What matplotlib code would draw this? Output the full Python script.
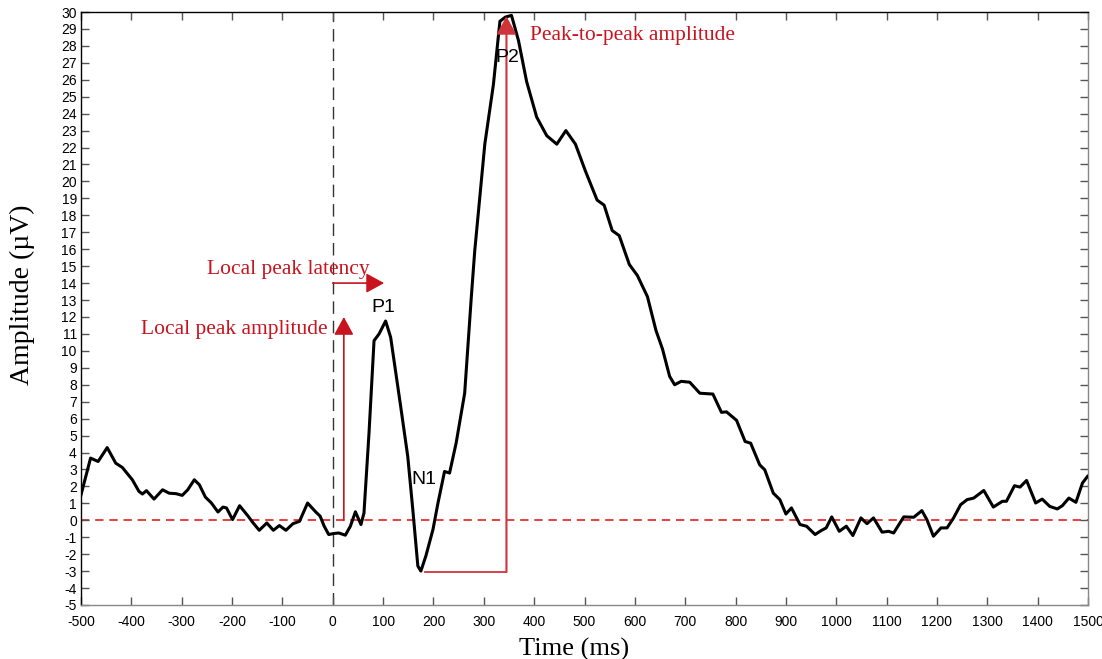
import matplotlib
matplotlib.use("Agg")
import matplotlib.pyplot as plt

# ---- data ----
time_ms = [-500, -481, -466, -448, -431, -418, -398, -385, -378, -370, -355, -338, -325, -311, -299,
           -288, -275, -265, -253, -241, -228, -218, -211, -199, -185, -168, -158, -146, -131, -118,
           -106, -93, -79, -66, -50, -35, -25, -17, -8, 2, 12, 25, 35, 45, 56, 62, 72, 82, 92, 105,
           115, 135, 149, 159, 169, 175, 185, 199, 209, 222, 232, 245, 262, 275, 282, 302, 319, 332,
           343, 355, 369, 385, 405, 425, 445, 463, 482, 502, 525, 539, 555, 569, 589, 605, 625, 642,
           655, 669, 679, 692, 709, 729, 755, 772, 782, 802, 819, 830, 848, 858, 875, 888, 900, 911,
           928, 941, 958, 971, 980, 991, 1006, 1020, 1033, 1049, 1061, 1074, 1091, 1104, 1114, 1134,
           1154, 1170, 1180, 1193, 1208, 1220, 1233, 1247, 1260, 1273, 1293, 1312, 1330, 1338, 1354,
           1365, 1378, 1396, 1409, 1424, 1439, 1449, 1462, 1476, 1489, 1499]
amplitude_uv = [1.5, 3.67, 3.47, 4.29, 3.37, 3.12, 2.39, 1.71, 1.55, 1.75, 1.25, 1.8, 1.6, 1.57, 1.47,
                1.8, 2.39, 2.1, 1.37, 1.02, 0.49, 0.78, 0.73, 0.04, 0.86, 0.24, -0.16, -0.59, -0.16, -0.59,
                -0.31, -0.59, -0.2, -0.06, 1.02, 0.53, 0.24, -0.35, -0.84, -0.78, -0.75, -0.88, -0.35, 0.5,
                -0.25, 0.43, 5.14, 10.6, 11.0, 11.76, 10.8, 6.7, 3.76, 0.63, -2.7, -3.0, -2.1, -0.55, 1.02,
                2.88, 2.79, 4.55, 7.5, 13.1, 15.9, 22.2, 25.7, 29.45, 29.7, 29.8, 28.3, 25.9, 23.8, 22.7,
                22.2, 23.0, 22.2, 20.6, 18.9, 18.6, 17.1, 16.8, 15.1, 14.45, 13.2, 11.2, 10.1, 8.5, 8.0,
                8.2, 8.15, 7.5, 7.45, 6.37, 6.4, 5.9, 4.65, 4.55, 3.27, 2.98, 1.6, 1.22, 0.37, 0.73, -0.25,
                -0.35, -0.84, -0.59, -0.45, 0.2, -0.65, -0.35, -0.9, 0.14, -0.2, 0.14, -0.7, -0.65, -0.75,
                0.2, 0.18, 0.57, 0.04, -0.94, -0.45, -0.45, 0.14, 0.92, 1.22, 1.31, 1.76, 0.78, 1.12, 1.12,
                2.04, 1.96, 2.35, 1.02, 1.25, 0.82, 0.67, 0.86, 1.31, 1.06, 2.2, 2.59]

x_ticks = list(range(-500, 1501, 100))
y_ticks = list(range(-5, 31, 1))

component_labels = ["P1", "N1", "P2"]
component_pos = [(101, 12.55), (181, 2.4), (347, 27.3)]

# annotation geometry
amp_arrow_x, amp_arrow_y0, amp_arrow_y1 = 22, 0.0, 12.0
lat_arrow_y, lat_arrow_x0, lat_arrow_x1 = 14.0, 0, 102
p2p_x, p2p_y0, p2p_y1 = 345, -3.05, 29.75
n1_line_x0 = 183

RED = "#c8141e"
RED_LINE = "#d0343a"

fig = plt.figure(figsize=(11.02, 6.59), dpi=100)
ax = fig.add_axes([81/1102, 1 - 605/659, (1088-81)/1102, (605-12)/659])

ax.set_xlim(-500, 1500)
ax.set_ylim(-5, 30)

# reference lines
ax.axhline(0, color="#e02020", lw=1.2, ls=(0, (5, 3.5)), zorder=1)
ax.axvline(0, color="#333333", lw=1.0, ls=(0, (9, 5)), zorder=1)

# waveform
ax.plot(time_ms, amplitude_uv, color="black", lw=2.2, solid_joinstyle="round", zorder=3)

# red annotation lines and arrows
arrowprops = dict(arrowstyle="-|>,head_length=0.55,head_width=0.3", color=RED,
                  lw=1.2, shrinkA=0, shrinkB=0, mutation_scale=20)
ax.annotate("", xy=(amp_arrow_x, amp_arrow_y1), xytext=(amp_arrow_x, amp_arrow_y0),
            arrowprops=arrowprops, zorder=4)
ax.annotate("", xy=(lat_arrow_x1, lat_arrow_y), xytext=(lat_arrow_x0, lat_arrow_y),
            arrowprops=arrowprops, zorder=4)
ax.plot([n1_line_x0, p2p_x], [p2p_y0, p2p_y0], color=RED_LINE, lw=1.3, zorder=4)
ax.annotate("", xy=(p2p_x, p2p_y1), xytext=(p2p_x, p2p_y0),
            arrowprops=dict(arrowstyle="-|>,head_length=0.55,head_width=0.3", color=RED_LINE,
                            lw=1.5, shrinkA=0, shrinkB=0, mutation_scale=20), zorder=4)

serif = ["Liberation Serif", "DejaVu Serif"]
ax.text(73, 14.55, "Local peak latency", color=RED, fontsize=15.5, family=serif,
        ha="right", va="baseline", zorder=5)
ax.text(-10, 11.0, "Local peak amplitude", color=RED, fontsize=15.5, family=serif,
        ha="right", va="baseline", zorder=5)
ax.text(391, 28.6, "Peak-to-peak amplitude", color=RED, fontsize=15.5, family=serif,
        ha="left", va="center", zorder=5)

narrow = ["Liberation Sans Narrow", "Liberation Sans", "DejaVu Sans"]
for lab, (cx, cy) in zip(component_labels, component_pos):
    ax.text(cx, cy, lab, fontsize=14, family=narrow, ha="center", va="center", zorder=5)

# ticks
ax.set_xticks(x_ticks)
ax.set_yticks(y_ticks)
ax.set_xticklabels([str(v) for v in x_ticks], family=narrow, fontsize=10)
ax.set_yticklabels([str(v) for v in y_ticks], family=narrow, fontsize=10)
ax.tick_params(direction="in", length=6, width=1.0, color="#555555",
               top=True, right=True)
ax.tick_params(axis="x", pad=7)
ax.tick_params(axis="y", pad=3)

for side in ["top", "left"]:
    ax.spines[side].set_color("black")
for side in ["right", "bottom"]:
    ax.spines[side].set_color("#888888")
for sp in ax.spines.values():
    sp.set_linewidth(1.0)

ax.set_xlabel("Time (ms)", family=serif, fontsize=19)
ax.xaxis.set_label_coords(0.49, -0.055)
ax.set_ylabel("Amplitude (\u00b5V)", family=serif, fontsize=20)
ax.yaxis.set_label_coords(-0.046, 0.523)

fig.savefig("out.png", dpi=100)
